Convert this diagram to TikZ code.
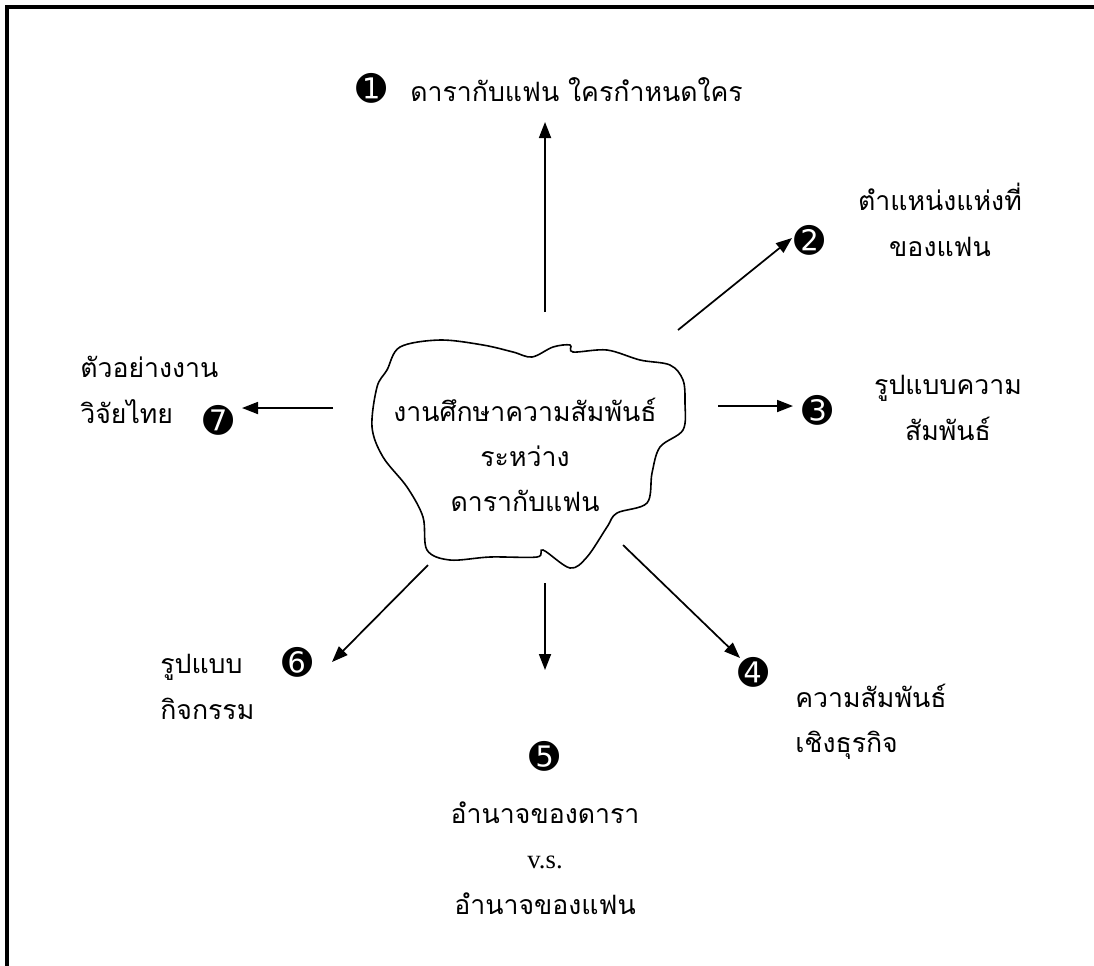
\documentclass[tikz,border=0pt]{standalone}
\usepackage{fontspec}
\usetikzlibrary{arrows.meta}
\newfontfamily\thaifont[Script=Thai]{Loma}
\newfontfamily\symfont{DejaVu Sans}
\newfontfamily\latinserif{Liberation Serif}
\begin{document}
\begin{tikzpicture}[x=0.75pt,y=-0.75pt,
  thai/.style={font=\thaifont\fontsize{20}{34}\selectfont, inner sep=0pt},
  num/.style={font=\symfont\fontsize{27}{27}\selectfont, inner sep=0pt},
  arr/.style={line width=1.3pt, -{Triangle[length=12pt,width=9pt]}},
  frame/.style={line width=2.3pt},
  cloud/.style={line width=1.2pt}]
\useasboundingbox (0,0) rectangle (1094,965);
\draw[frame] (7,966) -- (7,7) -- (1095,7);
% central cloud
\draw[cloud] plot[smooth cycle, tension=0.55] coordinates {
 (400,347) (440,340) (483,345) (513,352) (532,357) (553,347) (570,345) (573,352)
 (607,350) (640,360) (670,365) (683,380) (685,403) (683,430) (660,447) (652,473)
 (647,503) (617,513) (607,527) (587,557) (570,568) (543,550) (537,557) (490,557)
 (450,560) (427,550) (423,517) (407,487) (383,457) (372,427) (377,387) (387,370)};
\node[thai, align=center] (c) at (525,455) {งานศึกษาความสัมพันธ์\\ระหว่าง\\ดารากับแฟน};
% labels
\node[num] (n1) at (372,88) {➊};
\node[thai, anchor=west] (t1) at (410,90) {ดารากับแฟน ใครกำหนดใคร};
\node[num] (n2) at (810,240) {➋};
\node[thai, align=center] (t2) at (940,220) {ตำแหน่งแห่งที่\\ของแฟน};
\node[num] (n3) at (818,410) {➌};
\node[thai, align=center] (t3) at (948,408) {รูปแบบความ\\สัมพันธ์};
\node[num] (n4) at (754,672) {➍};
\node[thai, align=left, anchor=west] (t4) at (795,722) {ความสัมพันธ์\\เชิงธุรกิจ};
\node[num] (n5) at (545,756) {➎};
\node[thai, align=center] (t5) at (545,858) {อำนาจของดารา\\{\latinserif v.s.}\\อำนาจของแฟน};
\node[num] (n6) at (298,662) {➏};
\node[thai, align=left, anchor=west] (t6) at (160,687) {รูปแบบ\\กิจกรรม};
\node[num] (n7) at (219,420) {➐};
\node[thai, align=left, anchor=west] (t7) at (80,390) {ตัวอย่างงาน\\วิจัยไทย};
% arrow end points
\coordinate (s1) at (545,312); \coordinate (e1) at (545,122);
\coordinate (s2) at (678,330); \coordinate (e2) at (792,238);
\coordinate (s3) at (718,406); \coordinate (e3) at (793,406);
\coordinate (s4) at (623,545); \coordinate (e4) at (740,658);
\coordinate (s5) at (545,583); \coordinate (e5) at (545,670);
\coordinate (s6) at (428,565); \coordinate (e6) at (332,662);
\coordinate (s7) at (333,408); \coordinate (e7) at (242,408);
\foreach \i in {1,...,7} {\draw[arr] (s\i) -- (e\i);}
\end{tikzpicture}
\end{document}
